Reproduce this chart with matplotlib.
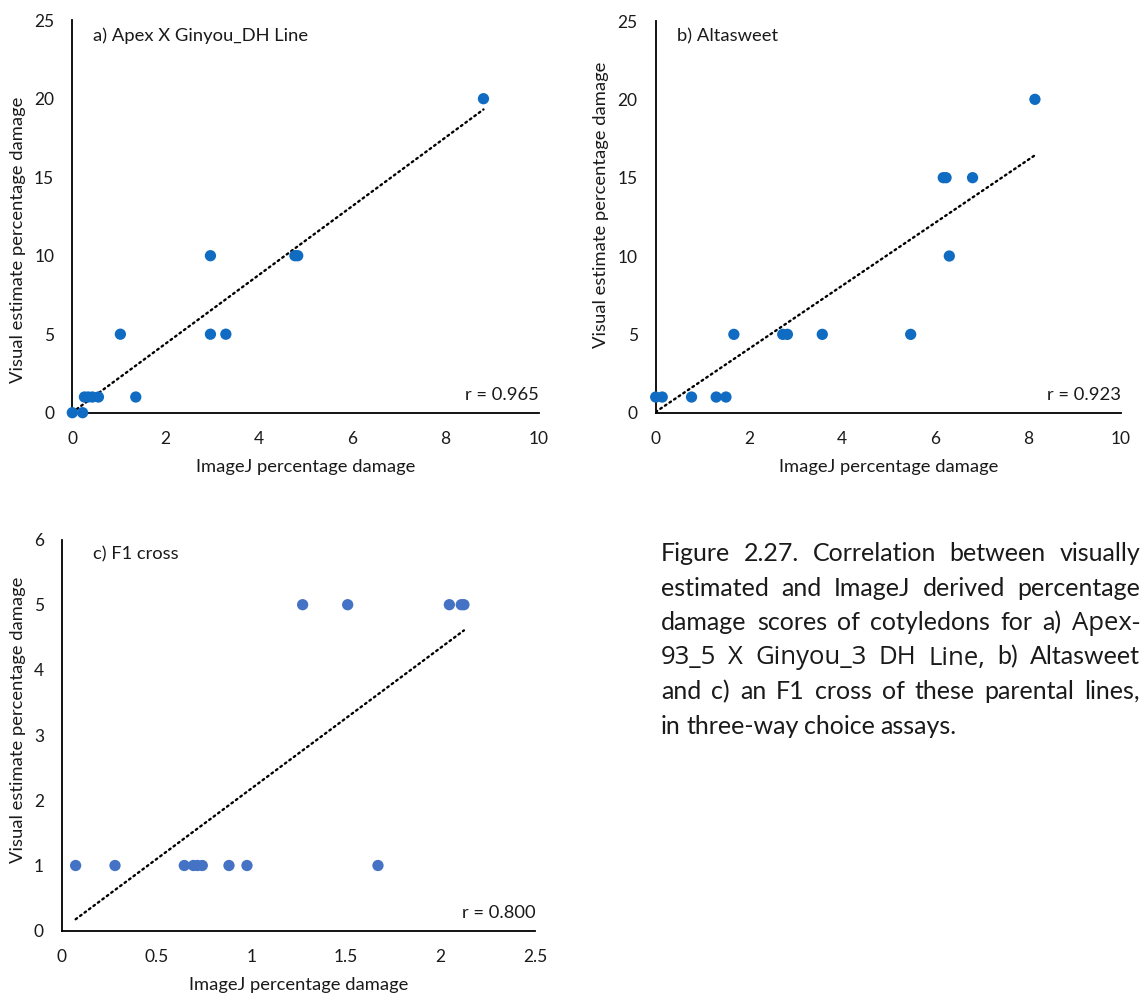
import matplotlib
matplotlib.use("Agg")
import matplotlib.pyplot as plt
import numpy as np

# ---- data -------------------------------------------------------------
# a) Apex X Ginyou_DH Line
a_imagej = [0.00, 0.22, 0.26, 0.34, 0.43, 0.56, 1.36, 1.03, 2.96, 3.29, 2.96, 4.77, 4.83, 8.81]
a_visual = [0, 0, 1, 1, 1, 1, 1, 5, 5, 5, 10, 10, 10, 20]
a_trend = (2.19, 0.02)          # slope, intercept
a_r = "r = 0.965"

# b) Altasweet
b_imagej = [0.00, 0.14, 0.77, 1.30, 1.51, 1.68, 2.73, 2.83, 3.58, 5.48, 6.18, 6.24, 6.81, 6.31, 8.15]
b_visual = [1, 1, 1, 1, 1, 5, 5, 5, 5, 5, 15, 15, 15, 10, 20]
b_trend = (2.01, 0.05)
b_r = "r = 0.923"

# c) F1 cross
c_imagej = [0.072, 0.28, 0.646, 0.694, 0.715, 0.741, 0.882, 0.977, 1.669,
            1.271, 1.509, 2.046, 2.109, 2.123]
c_visual = [1, 1, 1, 1, 1, 1, 1, 1, 1, 5, 5, 5, 5, 5]
c_trend = (2.16, 0.02)
c_r = "r = 0.800"

xlabel = "ImageJ percentage damage"
ylabel = "Visual estimate percentage damage"

caption_lines = [
    [("Figure 2.27. Correlation between visually", "main")],
    [("estimated and ImageJ derived percentage", "main")],
    [("damage scores of cotyledons for a)", "main"), ("Apex-", "alt")],
    [("93_5 X Ginyou_3 DH Line,", "alt"), ("b) Altasweet", "main")],
    [("and c) an F1 cross of these parental lines,", "main")],
    [("in three-way choice assays.", "main")],
]

# ---- style ------------------------------------------------------------
MAIN_FONT = "Lato"
ALT_FONT = "Open Sans"
TICK_SIZE = 12.5
LABEL_SIZE = 13.2
CAPTION_SIZE = 18
ALT_SIZE = 18.5
TXT = "#1a1a1a"

W, H = 1144, 994
fig = plt.figure(figsize=(W / 100, H / 100), dpi=100)
plt.rcParams["font.family"] = MAIN_FONT


def px_axes(left, top, right, bottom):
    return fig.add_axes([left / W, 1 - bottom / H, (right - left) / W, (bottom - top) / H])


def panel(ax, xs, ys, trend, rtext, title, xmax, xstep, ymax, ystep, color,
          title_pos, ylab_pos, xfmt=None):
    ax.scatter(xs, ys, s=66, color=color, edgecolors="none", zorder=3, clip_on=False)
    slope, icpt = trend
    tx = np.array([min(xs), max(xs)])
    ax.plot(tx, slope * tx + icpt, color="black", lw=1.7,
            linestyle=(0, (0.75, 1.6)), dash_capstyle="round", zorder=2)
    ax.set_xlim(0, xmax)
    ax.set_ylim(0, ymax)
    xt = np.arange(0, xmax + xstep / 2, xstep)
    yt = np.arange(0, ymax + ystep / 2, ystep)
    ax.set_xticks(xt)
    ax.set_yticks(yt)
    if xfmt:
        ax.set_xticklabels([xfmt(v) for v in xt])
    for s in ("top", "right"):
        ax.spines[s].set_visible(False)
    for s in ("left", "bottom"):
        ax.spines[s].set_linewidth(1.3)
        ax.spines[s].set_color("black")
    ax.tick_params(axis="x", length=0, pad=13.5, labelsize=TICK_SIZE, labelcolor=TXT)
    ax.tick_params(axis="y", length=0, pad=13, labelsize=TICK_SIZE, labelcolor=TXT)
    ax.set_xlabel(xlabel, fontsize=LABEL_SIZE, color=TXT)
    ax.xaxis.set_label_coords(0.5, -0.1376)
    ax.xaxis.label.set_va("center")
    ax.set_ylabel(ylabel, fontsize=LABEL_SIZE, color=TXT)
    ax.yaxis.set_label_coords(*ylab_pos)
    ax.yaxis.label.set_va("center")
    ax.text(title_pos[0], title_pos[1], title, transform=ax.transAxes,
            fontsize=LABEL_SIZE, color=TXT, va="center", ha="left")
    ax.text(1.0, 0.045, rtext, transform=ax.transAxes, fontsize=LABEL_SIZE,
            color=TXT, va="center", ha="right")
    ax.set_facecolor("none")


blue_ab = "#0F6CC2"
blue_c = "#4472C4"

ax_a = px_axes(72.3, 20.2, 539.0, 412.7)
panel(ax_a, a_imagej, a_visual, a_trend, a_r, "a) Apex X Ginyou_DH Line",
      10, 2, 25, 5, blue_ab, (0.044, 0.96), (-0.116, 0.44))

ax_b = px_axes(655.7, 21.0, 1121.0, 412.7)
panel(ax_b, b_imagej, b_visual, b_trend, b_r, "b) Altasweet",
      10, 2, 25, 5, blue_ab, (0.046, 0.96), (-0.1176, 0.53))

ax_c = px_axes(62.0, 539.5, 535.3, 930.7)
panel(ax_c, c_imagej, c_visual, c_trend, c_r, "c) F1 cross",
      2.5, 0.5, 6, 1, blue_c, (0.065, 0.963), (-0.093, 0.539),
      xfmt=lambda v: f"{v:g}")

# ---- justified caption -------------------------------------------------
renderer = fig.canvas.get_renderer()
cap_left, cap_right = 661, 1140
baselines = [561, 595.5, 630, 664.5, 699, 733.5]


def make_word(word, kind):
    fam = MAIN_FONT if kind == "main" else ALT_FONT
    size = CAPTION_SIZE if kind == "main" else ALT_SIZE
    return fig.text(0, 0, word, family=fam, fontsize=size, color=TXT,
                    ha="left", va="baseline")


space_w = 5.5
for i, (segments, yb) in enumerate(zip(caption_lines, baselines)):
    words = []
    for seg, kind in segments:
        for w in seg.split(" "):
            words.append(make_word(w, kind))
    widths = [t.get_window_extent(renderer).width for t in words]
    last = i == len(caption_lines) - 1
    if last or len(words) == 1:
        gap = space_w
    else:
        gap = (cap_right - cap_left - sum(widths)) / (len(words) - 1)
    x = cap_left
    for t, wd in zip(words, widths):
        t.set_position((x / W, 1 - yb / H))
        x += wd + gap

fig.savefig("out.png", dpi=100, facecolor="white")
